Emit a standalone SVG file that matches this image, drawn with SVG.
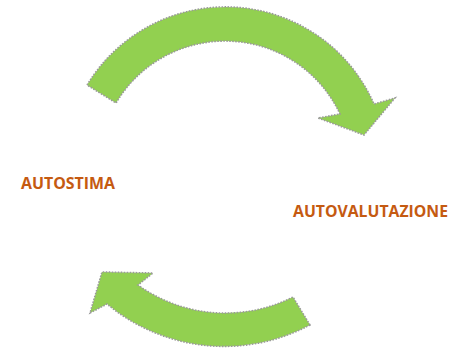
<svg xmlns="http://www.w3.org/2000/svg" width="462" height="351" viewBox="0 0 462 351">
  <style>
    .arrow { fill: #92D050; stroke: #9a9a9a; stroke-width: 1.6; stroke-dasharray: 1.6 1.4; stroke-linejoin: miter; }
    .label { font-family: "Open Sans", "Liberation Sans", sans-serif; font-weight: bold; font-size: 16px; fill: #C55A11; }
  </style>
  <g id="connectors">
    <!-- upper curved arrow, clockwise toward the right -->
    <path id="arrow-top" class="arrow" d="M87,85 A162,162 0 0 1 374,104 L395,98 L364,135 L318,118 L340,114 A127,127 0 0 0 116,103 Z"/>
    <!-- lower curved arrow, back toward the left -->
    <path id="arrow-bottom" class="arrow" d="M310,325 A183,183 0 0 1 107,304 L90,313 L102,272 L153,273 L138,285 A150,150 0 0 0 293,297 Z"/>
  </g>
  <g id="node-autostima">
    <text class="label" x="21" y="188.5" textLength="94" lengthAdjust="spacingAndGlyphs">AUTOSTIMA</text>
  </g>
  <g id="node-autovalutazione">
    <text class="label" x="293" y="217" textLength="155" lengthAdjust="spacingAndGlyphs">AUTOVALUTAZIONE</text>
  </g>
</svg>
